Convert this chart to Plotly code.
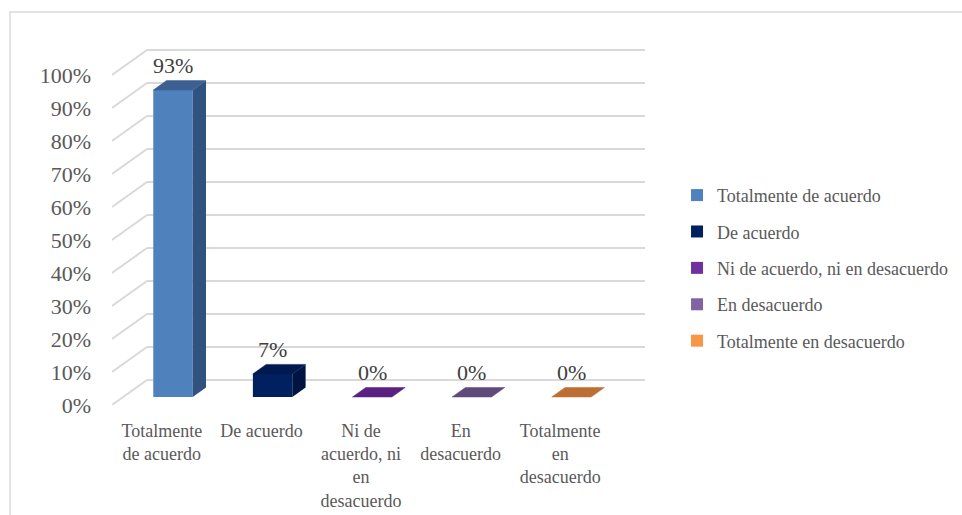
import plotly.graph_objects as go

# Survey responses (share of respondents)
categories = ["Totalmente de acuerdo", "De acuerdo", "Ni de acuerdo, ni en desacuerdo",
              "En desacuerdo", "Totalmente en desacuerdo"]
axis_labels = ["Totalmente<br>de acuerdo", "De acuerdo", "Ni de<br>acuerdo, ni<br>en<br>desacuerdo",
               "En<br>desacuerdo", "Totalmente<br>en<br>desacuerdo"]
percent = [93, 7, 0, 0, 0]
y_ticks = [i / 10 for i in range(11)]
y_tick_text = [f"{i * 10}%" for i in range(11)]

# Face colours for each column: front, top, side
front_colors = ["#4f81bd", "#002060", "#7030a0", "#8064a2", "#f79646"]
top_colors = ["#3b6091", "#001a50", "#5a2183", "#5f4a7c", "#bd6f33"]
side_colors = ["#31527e", "#001442", "#4a1a6c", "#4e3d66", "#a05c2a"]

FONT = "Times New Roman, Liberation Serif, serif"
TXT = "#595959"
GRID = "#d9d9d9"

# Oblique projection used to fake the 3-D look
DX, DY = 0.351, 0.0758        # depth offset of the back wall (x units, value units)
F1, F2 = 0.32, 0.70           # front / back depth fraction of the columns
HW = 0.198                    # half width of a column
X0, X1 = -0.5, len(categories) - 0.5

fig = go.Figure()
shapes = []

# Back wall gridlines and side wall diagonals
for t in y_ticks:
    shapes.append(dict(type="line", layer="below", xref="x", yref="y",
                       x0=X0 + DX, y0=t + DY, x1=X1 + DX, y1=t + DY,
                       line=dict(color=GRID, width=2)))
    shapes.append(dict(type="line", layer="below", xref="x", yref="y",
                       x0=X0, y0=t, x1=X0 + DX, y1=t + DY,
                       line=dict(color=GRID, width=2)))

ox, oy = (F2 - F1) * DX, (F2 - F1) * DY
annotations = []
for i, (name, p) in enumerate(zip(categories, percent)):
    v = p / 100
    cx = i + F1 * DX
    base = F1 * DY
    top = base + v
    # front face
    fig.add_trace(go.Bar(x=[cx], y=[v], base=[base], width=[2 * HW], name=name,
                         legendgroup=name, marker=dict(color=front_colors[i], line=dict(width=0)),
                         hoverinfo="skip"))
    # side face
    if v > 0:
        fig.add_trace(go.Scatter(x=[cx + HW, cx + HW + ox, cx + HW + ox, cx + HW, cx + HW],
                                 y=[base, base + oy, top + oy, top, base],
                                 fill="toself", fillcolor=side_colors[i], mode="lines",
                                 line=dict(width=0, color=side_colors[i]), showlegend=False,
                                 hoverinfo="skip"))
    # top face
    fig.add_trace(go.Scatter(x=[cx - HW, cx + HW, cx + HW + ox, cx - HW + ox, cx - HW],
                             y=[top, top, top + oy, top + oy, top],
                             fill="toself", fillcolor=top_colors[i], mode="lines",
                             line=dict(width=0.5, color=top_colors[i]), showlegend=False,
                             hoverinfo="skip"))
    annotations.append(dict(x=cx, y=top + oy, text=f"{p}%", showarrow=False,
                            xref="x", yref="y", yanchor="middle", yshift=15,
                            font=dict(family=FONT, size=22, color="#404040")))

# Outer chart border
shapes.append(dict(type="rect", xref="paper", yref="paper", x0=-0.1914, y0=-0.6,
                   x1=1.8, y1=1.0767, line=dict(color=GRID, width=1.5), layer="below"))

fig.update_layout(
    width=962, height=515,
    margin=dict(l=112, r=317, t=40, b=110, autoexpand=False),
    paper_bgcolor="white", plot_bgcolor="white",
    barmode="overlay",
    shapes=shapes, annotations=annotations,
    font=dict(family=FONT, color=TXT, size=18),
    showlegend=True,
    legend=dict(x=1.0601, xanchor="left", y=0.625, yanchor="top",
                font=dict(family=FONT, size=18, color=TXT),
                tracegroupgap=10, bgcolor="rgba(0,0,0,0)"),
    xaxis=dict(range=[X0, X1 + DX], tickvals=list(range(len(categories))), ticktext=axis_labels,
               showgrid=False, zeroline=False, showline=False, ticks="outside", automargin=False,
               ticklen=9, tickcolor="rgba(0,0,0,0)", tickfont=dict(size=18, family=FONT, color=TXT)),
    yaxis=dict(range=[0, 365 / 330], tickvals=y_ticks, ticktext=y_tick_text, automargin=False,
               showgrid=False, zeroline=False, showline=False, ticks="",
               ticklabelstandoff=20, tickfont=dict(size=22, family=FONT, color=TXT)),
)

fig.write_html("out.html")
